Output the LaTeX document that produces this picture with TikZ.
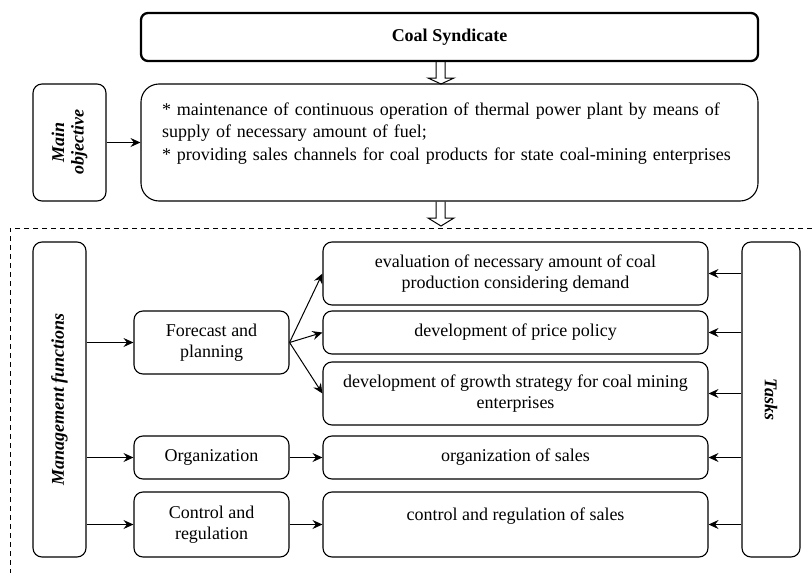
\documentclass[tikz,border=0pt]{standalone}
\usepackage{fontspec}
\setmainfont{Liberation Serif}
\usetikzlibrary{arrows.meta,calc}
\begin{document}
\begin{tikzpicture}[x=1pt,y=-1pt,
  box/.style={draw, line width=1.1pt, rounded corners=9pt, inner sep=0pt, align=center,
    font=\fontsize{18}{20.5}\selectfont},
  arr/.style={line width=1pt, -{Stealth[length=10pt,width=9pt,inset=3.5pt]}},
  hollow/.style={line width=1pt},
  frame/.style={line width=1pt, dash pattern=on 5pt off 4pt}]
\useasboundingbox (0,0) rectangle (812,573);

% top part
\node[box, line width=2.3pt, rounded corners=7pt, minimum width=617pt, minimum height=48pt, font=\fontsize{18}{20.5}\selectfont\bfseries] (coal) at (449.5,37) {Coal Syndicate};
\node[box, rotate=90, minimum width=117pt, minimum height=73pt, font=\fontsize{18}{19.5}\selectfont\bfseries\itshape] (obj) at (69.5,142.5) {Main\\objective};
\node[box, rounded corners=18pt, minimum width=617pt, minimum height=117pt, text width=575pt, align=left, font=\fontsize{18}{22.5}\selectfont] (goal) at (449.5,142.5)
  {\makebox[560pt][s]{* maintenance of continuous operation of thermal power plant by means of}\\
   supply of necessary amount of fuel;\\{}* providing sales channels for coal products for state coal-mining enterprises\\
   \mbox{}};

\draw[hollow] (436,0 |- coal.south) -- (436,78) -- (428,78) -- (441,84) -- (454,78) -- (445,78) -- (445,0 |- coal.south);
\draw[hollow] (436,0 |- goal.south) -- (436,218) -- (428,218) -- (441,226) -- (454,218) -- (445,218) -- (445,0 |- goal.south);

\draw[arr] (obj.south) -- (goal.west);

% dashed frame
\coordinate (fr) at (812,228);
\coordinate (fc) at (10,228);
\coordinate (fb) at (10,573);
\draw[frame] (fr) -- (fc) -- (fb);

% lower part
\node[box, rotate=90, minimum width=315pt, minimum height=53pt, font=\fontsize{18}{20.5}\selectfont\bfseries\itshape] (mgmt) at (59.5,399.5) {Management functions};
\node[box, rotate=-90, minimum width=315pt, minimum height=58pt, font=\fontsize{18}{20.5}\selectfont\bfseries\itshape] (tasks) at (771,399.5) {Tasks};

\node[box, minimum width=155pt, minimum height=63pt] (fp) at (211.5,342.5) {Forecast and\\planning};
\node[box, minimum width=155pt, minimum height=43pt] (org) at (211.5,457.5) {Organization};
\node[box, minimum width=155pt, minimum height=65pt] (ctrl) at (211.5,524.5) {Control and\\regulation};

\node[box, minimum width=385pt, minimum height=63pt] (eval) at (515.5,273.5) {evaluation of necessary amount of coal\\production considering demand};
\node[box, minimum width=385pt, minimum height=43pt] (price) at (515.5,332.5) {development of price policy};
\node[box, minimum width=385pt, minimum height=63pt] (growth) at (515.5,393.5) {development of growth strategy for coal mining\\enterprises};
\node[box, minimum width=385pt, minimum height=43pt] (osales) at (515.5,457.5) {organization of sales};
\node[box, minimum width=385pt, minimum height=65pt] (csales) at (515.5,524.5) {control and regulation of sales\\\mbox{}};

\draw[arr] (mgmt.south |- fp.west) -- (fp.west);
\draw[arr] (mgmt.south |- org.west) -- (org.west);
\draw[arr] (mgmt.south |- ctrl.west) -- (ctrl.west);

\draw[arr] (fp.east) -- (eval.west);
\draw[arr] (fp.east) -- (price.west);
\draw[arr] (fp.east) -- (growth.west);
\draw[arr] (org.east) -- (osales.west);
\draw[arr] (ctrl.east) -- (csales.west);

\draw[arr] (tasks.south |- eval.east) -- (eval.east);
\draw[arr] (tasks.south |- price.east) -- (price.east);
\draw[arr] (tasks.south |- growth.east) -- (growth.east);
\draw[arr] (tasks.south |- osales.east) -- (osales.east);
\draw[arr] (tasks.south |- csales.east) -- (csales.east);
\end{tikzpicture}
\end{document}
